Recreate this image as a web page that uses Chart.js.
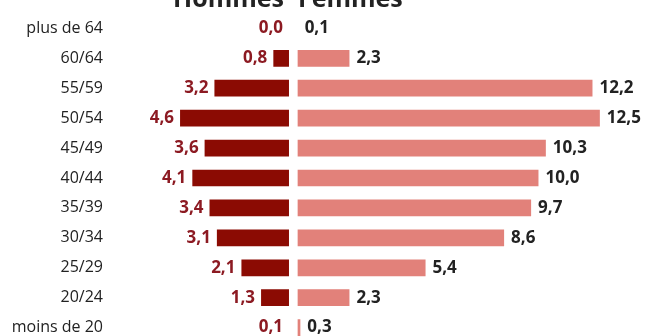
<!DOCTYPE html>
<html>
<head>
<meta charset="utf-8">
<script src="https://cdn.jsdelivr.net/npm/chart.js@4/dist/chart.umd.min.js"></script>
<style>
  html, body { margin: 0; padding: 0; background: #fff; overflow: hidden; }
  #wrap { position: relative; width: 646px; height: 350px; }
</style>
</head>
<body>
<div id="wrap"><canvas id="c" width="646" height="350"></canvas></div>
<script>
const categories = ["plus de 64", "60/64", "55/59", "50/54", "45/49", "40/44", "35/39", "30/34", "25/29", "20/24", "moins de 20"];
const hommes = [0.0, 0.8, 3.2, 4.6, 3.6, 4.1, 3.4, 3.1, 2.1, 1.3, 0.1];
const femmes = [0.1, 2.3, 12.2, 12.5, 10.3, 10.0, 9.7, 8.6, 5.4, 2.3, 0.3];
const seriesNames = ["Hommes", "Femmes"];

// half-gap around the central axis, in axis units
const gapH = 0.163, gapF = 0.19;
const fmt = v => v.toFixed(1).replace('.', ',');

const labelPlugin = {
  id: 'valueLabels',
  afterDatasetsDraw(chart) {
    const ctx = chart.ctx;
    ctx.save();
    ctx.font = 'bold 17px "Open Sans"';
    ctx.textBaseline = 'middle';
    const mh = chart.getDatasetMeta(0), mf = chart.getDatasetMeta(1);
    mh.data.forEach((el, i) => {
      const left = Math.min(el.x, el.base);
      ctx.fillStyle = '#8c1a22';
      ctx.textAlign = 'right';
      ctx.fillText(fmt(hommes[i]), left - 6, el.y);
    });
    mf.data.forEach((el, i) => {
      const right = Math.max(el.x, el.base);
      ctx.fillStyle = '#222222';
      ctx.textAlign = 'left';
      ctx.fillText(fmt(femmes[i]), right + 7, el.y);
    });
    // series titles (cut off at the top edge)
    const zero = chart.scales.x.getPixelForValue(0);
    ctx.font = 'bold 25px "Open Sans"';
    ctx.textBaseline = 'alphabetic';
    ctx.fillStyle = '#222222';
    ctx.textAlign = 'right';
    ctx.fillText(seriesNames[0], zero - 9, 7);
    ctx.textAlign = 'left';
    ctx.fillText(seriesNames[1], zero + 5, 7);
    ctx.restore();
  }
};

new Chart(document.getElementById('c'), {
  type: 'bar',
  data: {
    labels: categories,
    datasets: [
      {
        label: seriesNames[0],
        data: hommes.map(v => [-Math.max(v, gapH), -gapH]),
        backgroundColor: '#8b0b03',
        grouped: false,
        barPercentage: 0.558,
        categoryPercentage: 1
      },
      {
        label: seriesNames[1],
        data: femmes.map(v => [gapF, Math.max(v, gapF)]),
        backgroundColor: '#e2817a',
        grouped: false,
        barPercentage: 0.558,
        categoryPercentage: 1
      }
    ]
  },
  options: {
    indexAxis: 'y',
    responsive: false,
    animation: false,
    layout: { padding: { top: 13.4, bottom: 7.4, left: 0, right: 0 } },
    plugins: { legend: { display: false }, tooltip: { enabled: false }, title: { display: false } },
    scales: {
      x: { display: false, min: -7.25, max: 14.38 },
      y: {
        grid: { display: false, drawTicks: false },
        border: { display: false },
        ticks: { font: { family: 'Open Sans', size: 16 }, color: '#222222', padding: 12 },
        afterFit(scale) { scale.width = 115; scale.paddingTop = 0; scale.paddingBottom = 0; }
      }
    }
  },
  plugins: [labelPlugin]
});
</script>
</body>
</html>
